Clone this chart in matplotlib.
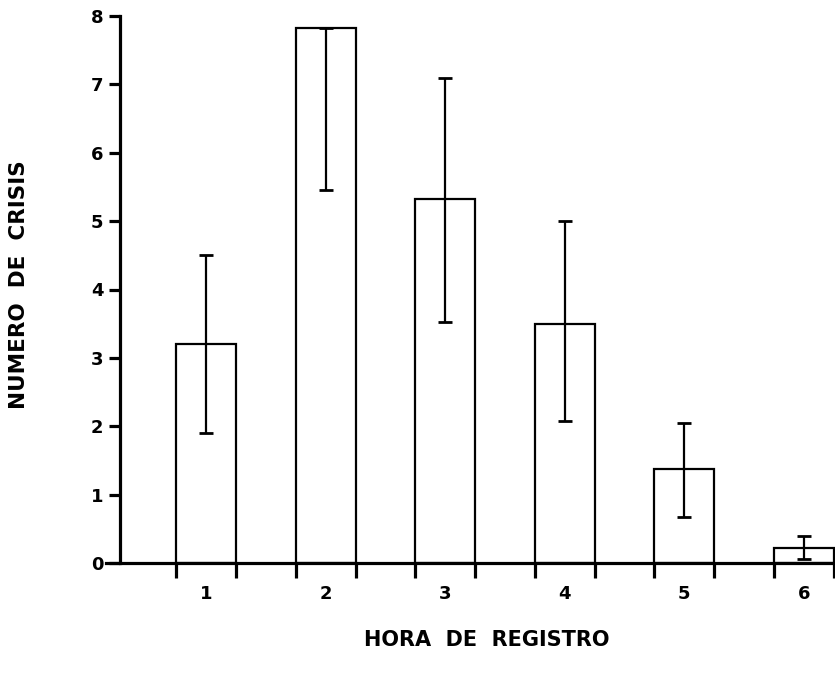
import matplotlib.pyplot as plt

# datos
hours = [1, 2, 3, 4, 5, 6]
crisis = [3.2, 7.82, 5.33, 3.5, 1.38, 0.22]
err_low = [1.9, 5.45, 3.53, 2.07, 0.67, 0.06]
err_high = [4.5, 7.82, 7.1, 5.0, 2.05, 0.39]

yerr = [[c - lo for c, lo in zip(crisis, err_low)],
        [hi - c for c, hi in zip(crisis, err_high)]]

fig = plt.figure(figsize=(8.35, 6.84), dpi=100)
ax = fig.add_axes([106 / 835, 1 - 563 / 684, 1 - 106 / 835, (563 - 16) / 684])

width = 0.5
ax.bar(hours, crisis, width=width, color='white', edgecolor='black', linewidth=1.6, zorder=2)
ax.errorbar(hours, crisis, yerr=yerr, fmt='none', ecolor='black', elinewidth=1.6,
            capsize=5, capthick=2, zorder=3)

ax.set_xlim(0.163, 6.26)
ax.set_ylim(0, 8)

# ejes
for s in ['top', 'right']:
    ax.spines[s].set_visible(False)
ax.spines['left'].set_position(('data', 0.28))
ax.spines['left'].set_linewidth(2.3)
ax.spines['bottom'].set_linewidth(2.3)

ax.set_yticks(range(0, 9))
ax.tick_params(axis='y', length=8, width=2.3, labelsize=13, pad=4)

ax.set_xticks(hours)
ax.set_xticks([h - width / 2 for h in hours] + [h + width / 2 for h in hours], minor=True)
ax.tick_params(axis='x', which='major', length=0, labelsize=13, pad=16)
ax.tick_params(axis='x', which='minor', length=11, width=2.3)
for lbl in ax.get_xticklabels() + ax.get_yticklabels():
    lbl.set_fontweight('bold')

fig.text(487 / 835, 1 - 640 / 684, 'HORA  DE  REGISTRO', ha='center', va='center',
         fontsize=15, fontweight='bold')
fig.text(19 / 835, 1 - 285 / 684, 'NUMERO  DE  CRISIS', ha='center', va='center',
         rotation=90, fontsize=15.5, fontweight='bold')

fig.savefig('out.png', dpi=100)
